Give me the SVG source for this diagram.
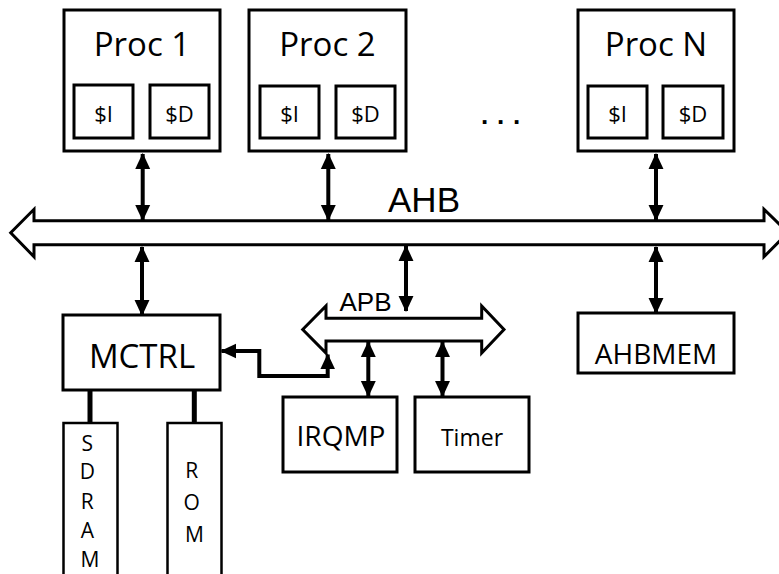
<svg xmlns="http://www.w3.org/2000/svg" width="779" height="574" viewBox="0 0 779 574">
  <style>
    .box { fill: #ffffff; stroke: #000000; stroke-width: 3; }
    .sub { fill: #ffffff; stroke: #000000; stroke-width: 3; }
    .mem { fill: #ffffff; stroke: #000000; stroke-width: 2.5; }
    .bus { fill: #ffffff; stroke: #000000; stroke-width: 3; stroke-linejoin: miter; }
    .lbl { font-family: "Open Sans", "Noto Sans", sans-serif; fill: #000000; text-anchor: middle; }
    .buslbl { font-family: "Liberation Sans", Arial, sans-serif; fill: #000000; text-anchor: middle; }
    .link { fill: none; stroke: #000000; stroke-width: 4; }
    .bi { marker-start: url(#head); marker-end: url(#head); }
    .wire { fill: none; stroke: #000000; stroke-width: 5; }
  </style>
  <defs>
    <marker id="head" markerUnits="userSpaceOnUse" markerWidth="16" markerHeight="16" refX="14" refY="7" orient="auto-start-reverse" viewBox="0 0 15 14">
      <path d="M0,0 L15,7 L0,14 Z" fill="#000000"/>
    </marker>
  </defs>

  <!-- processors -->
  <g id="proc1">
    <rect class="box" x="64" y="10" width="156" height="141"/>
    <text class="lbl" x="142" y="56" font-size="33">Proc 1</text>
    <rect class="sub" x="74" y="85" width="59" height="53"/>
    <text class="lbl" x="103.5" y="122" font-size="22">$I</text>
    <rect class="sub" x="150" y="85" width="59" height="53"/>
    <text class="lbl" x="179.5" y="122" font-size="22">$D</text>
  </g>
  <g id="proc2">
    <rect class="box" x="249" y="10" width="157" height="141"/>
    <text class="lbl" x="327.5" y="56" font-size="33">Proc 2</text>
    <rect class="sub" x="260" y="86" width="59" height="52"/>
    <text class="lbl" x="289.5" y="122" font-size="22">$I</text>
    <rect class="sub" x="336" y="86" width="59" height="52"/>
    <text class="lbl" x="365.5" y="122" font-size="22">$D</text>
  </g>
  <g id="ellipsis">
    <text x="481" y="124" font-family="Liberation Sans, Arial, sans-serif" font-weight="bold" font-size="26" letter-spacing="8.8">...</text>
  </g>
  <g id="procN">
    <rect class="box" x="578" y="10" width="156" height="141"/>
    <text class="lbl" x="656" y="56" font-size="33">Proc N</text>
    <rect class="sub" x="588" y="86" width="59" height="52"/>
    <text class="lbl" x="617.5" y="122" font-size="22">$I</text>
    <rect class="sub" x="663" y="86" width="60" height="52"/>
    <text class="lbl" x="693" y="122" font-size="22">$D</text>
  </g>

  <!-- buses -->
  <g id="ahb">
    <polygon class="bus" points="10.7,232.7 34,209.3 34,220.7 764,220.7 764,209.3 788,232.7 764,256.7 764,244.7 34,244.7 34,256.7"/>
    <text class="buslbl" x="424" y="212" font-size="35">AHB</text>
  </g>
  <g id="apb">
    <polygon class="bus" points="302.7,329.5 326,306 326,318.3 481.7,318.3 481.7,306 504,329.5 481.7,353 481.7,341 326,341 326,353"/>
    <text class="buslbl" x="365.5" y="311" font-size="26">APB</text>
  </g>

  <!-- peripherals -->
  <g id="mctrl">
    <rect class="box" x="63" y="315" width="157" height="75"/>
    <text class="lbl" x="142" y="368" font-size="33">MCTRL</text>
  </g>
  <g id="ahbmem">
    <rect class="box" x="578" y="313" width="156" height="60"/>
    <text class="lbl" x="656" y="364" font-size="28">AHBMEM</text>
  </g>
  <g id="irqmp">
    <rect class="box" x="283" y="397" width="114" height="75"/>
    <text class="lbl" x="341" y="446" font-size="28">IRQMP</text>
  </g>
  <g id="timer">
    <rect class="box" x="415" y="397" width="114" height="75"/>
    <text class="lbl" x="472" y="446" font-size="23">Timer</text>
  </g>
  <g id="sdram">
    <rect class="mem" x="63.5" y="423" width="54" height="160"/>
    <text class="lbl" font-size="21">
      <tspan x="90" y="451">S</tspan>
      <tspan x="90" y="479">D</tspan>
      <tspan x="90" y="509">R</tspan>
      <tspan x="90" y="538">A</tspan>
      <tspan x="90" y="567">M</tspan>
    </text>
  </g>
  <g id="rom">
    <rect class="mem" x="167.5" y="423" width="54" height="160"/>
    <text class="lbl" font-size="21">
      <tspan x="194.5" y="478">R</tspan>
      <tspan x="194.5" y="510">O</tspan>
      <tspan x="194.5" y="542">M</tspan>
    </text>
  </g>

  <!-- connectors -->
  <g id="connectors">
    <line class="link bi" x1="142.7" y1="154" x2="142.7" y2="220"/>
    <line class="link bi" x1="328.3" y1="154" x2="328.3" y2="220"/>
    <line class="link bi" x1="656" y1="154" x2="656" y2="220"/>
    <line class="link bi" x1="142" y1="247" x2="142" y2="315"/>
    <line class="link bi" x1="406" y1="246" x2="406" y2="311"/>
    <line class="link bi" x1="656" y1="247" x2="656" y2="313"/>
    <line class="link bi" x1="368.3" y1="342" x2="368.3" y2="396"/>
    <line class="link bi" x1="442.5" y1="342" x2="442.5" y2="396"/>
    <path class="link bi" d="M221.5,351 H259.3 V376 H327.7 V354.5"/>
    <line class="wire" x1="90" y1="390" x2="90" y2="423"/>
    <line class="wire" x1="194.3" y1="390" x2="194.3" y2="423"/>
  </g>
</svg>
